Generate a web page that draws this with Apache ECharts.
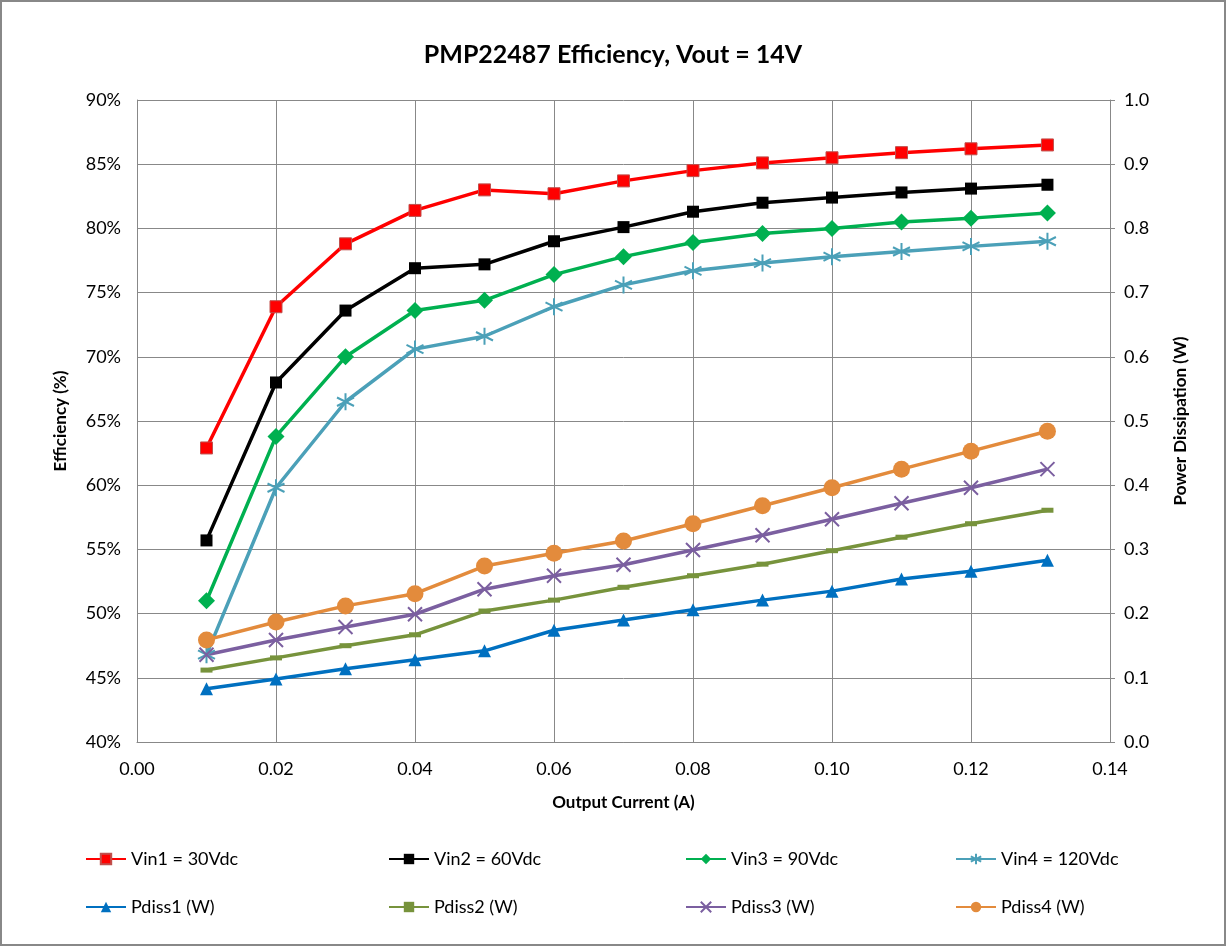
<!DOCTYPE html>
<html><head><meta charset="utf-8">
<script src="https://cdn.jsdelivr.net/npm/echarts@6/dist/echarts.min.js"></script>
<style>
html,body{margin:0;padding:0;background:#fff;}
#c{width:1226px;height:946px;box-sizing:border-box;border:2px solid #888;}
</style></head>
<body><div id="c"></div>
<script>
const current = [0.01,0.02,0.03,0.04,0.05,0.06,0.07,0.08,0.09,0.10,0.11,0.12,0.131];
const vin1 = [62.9,73.9,78.8,81.4,83.0,82.7,83.7,84.5,85.1,85.5,85.9,86.2,86.5];
const vin2 = [55.7,68.0,73.6,76.9,77.2,79.0,80.1,81.3,82.0,82.4,82.8,83.1,83.4];
const vin3 = [51.0,63.8,70.0,73.6,74.4,76.4,77.8,78.9,79.6,80.0,80.5,80.8,81.2];
const vin4 = [46.8,59.8,66.5,70.6,71.6,73.9,75.6,76.7,77.3,77.8,78.2,78.6,79.0];
const pdiss1 = [0.083,0.098,0.114,0.128,0.142,0.174,0.190,0.206,0.221,0.235,0.254,0.266,0.283];
const pdiss2 = [0.112,0.131,0.150,0.167,0.204,0.221,0.241,0.259,0.277,0.298,0.319,0.340,0.361];
const pdiss3 = [0.136,0.159,0.179,0.199,0.238,0.259,0.276,0.299,0.322,0.347,0.372,0.396,0.425];
const pdiss4 = [0.159,0.187,0.212,0.231,0.274,0.294,0.313,0.340,0.368,0.396,0.425,0.453,0.484];
const names = ['Vin1 = 30Vdc','Vin2 = 60Vdc','Vin3 = 90Vdc','Vin4 = 120Vdc','Pdiss1 (W)','Pdiss2 (W)','Pdiss3 (W)','Pdiss4 (W)'];

const pair = arr => arr.map((v,i)=>[current[i], v]);
const FONT = 'Lato';
const asterisk = 'path://M0,-10L0,10M-8.66,-5L8.66,5M-8.66,5L8.66,-5';
const xmark = 'path://M-10,-10L10,10M-10,10L10,-10';

function mk(name, data, color, yIdx, symbol, size, extra){
  return Object.assign({
    name, type:'line', yAxisIndex:yIdx, data:pair(data),
    symbol, symbolSize:size, showAllSymbol:true,
    lineStyle:{color, width:3.5},
    itemStyle:{color},
    emphasis:{disabled:true}, animation:false, z:3
  }, extra||{});
}

const series = [
  mk(names[0], vin1, '#FF0000', 0, 'rect', 12, {itemStyle:{color:'#FF0000', borderColor:'#C0504D', borderWidth:1}}),
  mk(names[1], vin2, '#000000', 0, 'rect', 12),
  mk(names[2], vin3, '#00B050', 0, 'diamond', 17),
  mk(names[3], vin4, '#4BA0B8', 0, asterisk, 17, {itemStyle:{color:'#4BA0B8', borderColor:'#4BA0B8', borderWidth:2}}),
  mk(names[4], pdiss1, '#0070C0', 1, 'triangle', 13),
  mk(names[5], pdiss2, '#77933C', 1, 'rect', [12,5]),
  mk(names[6], pdiss3, '#7B5FA0', 1, xmark, 14, {itemStyle:{color:'#7B5FA0', borderColor:'#7B5FA0', borderWidth:2}}),
  mk(names[7], pdiss4, '#E38B3C', 1, 'circle', 17)
];

const legendBase = {orient:'vertical', itemGap:30, itemWidth:40, itemHeight:13,
  textStyle:{fontFamily:FONT, fontSize:18, color:'#000'}, selectedMode:false, top:843};
const legends = [
  Object.assign({left:78, data:[names[0],names[4]]}, legendBase),
  Object.assign({left:381, data:[names[1],names[5]]}, legendBase),
  Object.assign({left:678, data:[names[2],names[6]]}, legendBase),
  Object.assign({left:948, data:[names[3],names[7]]}, legendBase)
];

const axisLabelStyle = {fontFamily:FONT, fontSize:18, color:'#000'};
const nameStyle = {fontFamily:FONT, fontSize:17, fontWeight:'bold', color:'#000'};
const gridLine = {show:true, lineStyle:{color:'#888', width:1}};
const axLine = {show:true, lineStyle:{color:'#888', width:1}};

const option = {
  backgroundColor:'#fff',
  animation:false,
  title:{text:'PMP22487 Efficiency, Vout = 14V', left:'center', top:35,
    textStyle:{fontFamily:FONT, fontSize:25, fontWeight:'bold', color:'#000'}},
  legend: legends,
  grid:{left:135, top:98, right:114, bottom:202, containLabel:false},
  xAxis:{type:'value', min:0, max:0.14, interval:0.02,
    name:'Output Current (A)', nameLocation:'middle', nameGap:52, nameTextStyle:nameStyle,
    axisLine:axLine, axisTick:{show:false}, splitLine:gridLine,
    axisLabel:Object.assign({formatter:v=>v.toFixed(2), margin:18}, axisLabelStyle)},
  yAxis:[
    {type:'value', min:40, max:90, interval:5, position:'left',
     name:'Efficiency (%)', nameLocation:'middle', nameGap:68, nameTextStyle:nameStyle,
     axisLine:axLine, axisTick:{show:false}, splitLine:gridLine,
     axisLabel:Object.assign({formatter:'{value}%', margin:16}, axisLabelStyle)},
    {type:'value', min:0, max:1, interval:0.1, position:'right',
     name:'Power Dissipation (W)', nameLocation:'middle', nameGap:62, nameRotate:90, nameTextStyle:nameStyle,
     axisLine:axLine, axisTick:{show:true, length:5, lineStyle:{color:'#888'}}, splitLine:{show:false},
     axisLabel:Object.assign({formatter:v=>v.toFixed(1), margin:14}, axisLabelStyle)}
  ],
  series
};
const chart = echarts.init(document.getElementById('c'), null, {renderer:'canvas'});
chart.setOption(option);
</script></body></html>
